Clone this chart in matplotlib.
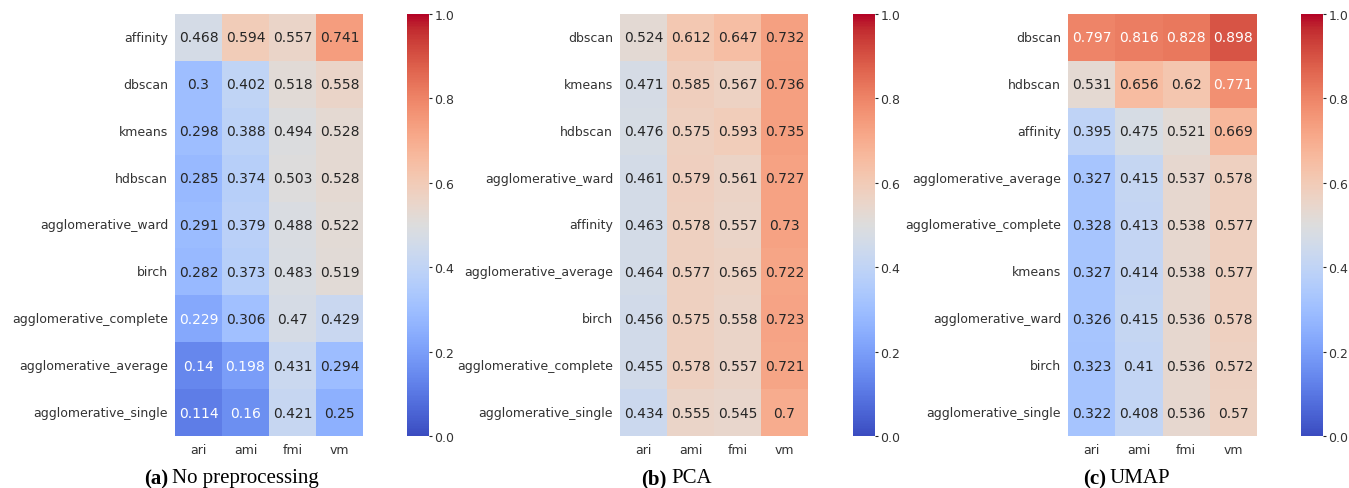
import matplotlib
matplotlib.use("Agg")
import matplotlib.pyplot as plt
import seaborn as sns
import numpy as np

metrics = ["ari", "ami", "fmi", "vm"]

raw_methods = ["affinity", "dbscan", "kmeans", "hdbscan", "agglomerative_ward",
               "birch", "agglomerative_complete", "agglomerative_average",
               "agglomerative_single"]
raw_scores = [
    [0.468, 0.594, 0.557, 0.741],
    [0.3, 0.402, 0.518, 0.558],
    [0.298, 0.388, 0.494, 0.528],
    [0.285, 0.374, 0.503, 0.528],
    [0.291, 0.379, 0.488, 0.522],
    [0.282, 0.373, 0.483, 0.519],
    [0.229, 0.306, 0.47, 0.429],
    [0.14, 0.198, 0.431, 0.294],
    [0.114, 0.16, 0.421, 0.25],
]

pca_methods = ["dbscan", "kmeans", "hdbscan", "agglomerative_ward", "affinity",
               "agglomerative_average", "birch", "agglomerative_complete",
               "agglomerative_single"]
pca_scores = [
    [0.524, 0.612, 0.647, 0.732],
    [0.471, 0.585, 0.567, 0.736],
    [0.476, 0.575, 0.593, 0.735],
    [0.461, 0.579, 0.561, 0.727],
    [0.463, 0.578, 0.557, 0.73],
    [0.464, 0.577, 0.565, 0.722],
    [0.456, 0.575, 0.558, 0.723],
    [0.455, 0.578, 0.557, 0.721],
    [0.434, 0.555, 0.545, 0.7],
]

umap_methods = ["dbscan", "hdbscan", "affinity", "agglomerative_average",
                "agglomerative_complete", "kmeans", "agglomerative_ward",
                "birch", "agglomerative_single"]
umap_scores = [
    [0.797, 0.816, 0.828, 0.898],
    [0.531, 0.656, 0.62, 0.771],
    [0.395, 0.475, 0.521, 0.669],
    [0.327, 0.415, 0.537, 0.578],
    [0.328, 0.413, 0.538, 0.577],
    [0.327, 0.414, 0.538, 0.577],
    [0.326, 0.415, 0.536, 0.578],
    [0.323, 0.41, 0.536, 0.572],
    [0.322, 0.408, 0.536, 0.57],
]

captions = [("(a)", "No preprocessing"), ("(b)", "PCA"), ("(c)", "UMAP")]

plt.rcParams["text.color"] = "#262626"
plt.rcParams["xtick.color"] = "#262626"
plt.rcParams["ytick.color"] = "#262626"
plt.rcParams["xtick.labelcolor"] = "#333333"
plt.rcParams["ytick.labelcolor"] = "#333333"

W, H = 1349, 489
fig = plt.figure(figsize=(W / 100, H / 100), dpi=100)

# pixel positions of each panel: heatmap left/right, colorbar left/right, caption split point
panels = [
    (175, 363, 407, 429, 168),
    (620, 808, 853, 875, 667),
    (1068, 1257, 1301, 1323, 1106),
]
top, bottom = 15, 437

data = [(raw_methods, raw_scores), (pca_methods, pca_scores), (umap_methods, umap_scores)]

for (methods, scores), (hl, hr, cl, cr, cx), (tag, name) in zip(data, panels, captions):
    ax = fig.add_axes([hl / W, 1 - bottom / H, (hr - hl) / W, (bottom - top) / H])
    cax = fig.add_axes([cl / W, 1 - bottom / H, (cr - cl) / W, (bottom - top) / H])
    sns.heatmap(np.array(scores), ax=ax, cbar_ax=cax, cmap="coolwarm", vmin=0, vmax=1,
                annot=True, fmt="g", annot_kws={"fontsize": 10},
                xticklabels=metrics, yticklabels=methods)
    ax.tick_params(axis="both", labelsize=9, length=0, pad=5)
    ax.tick_params(axis="y", rotation=0)
    cax.set_yticks([0, 0.2, 0.4, 0.6, 0.8, 1.0])
    cax.tick_params(labelsize=9, length=2.5, width=0.8, pad=1.5)
    for spine in cax.spines.values():
        spine.set_visible(False)
    fig.text(cx / W, 1 - 479 / H, tag, ha="right", va="center", fontsize=15,
             fontweight="bold", family="Liberation Serif", color="black")
    fig.text((cx + 4) / W, 1 - 479 / H, name, ha="left", va="center", fontsize=15,
             family="Liberation Serif", color="black")

fig.savefig("out.png", dpi=100)
